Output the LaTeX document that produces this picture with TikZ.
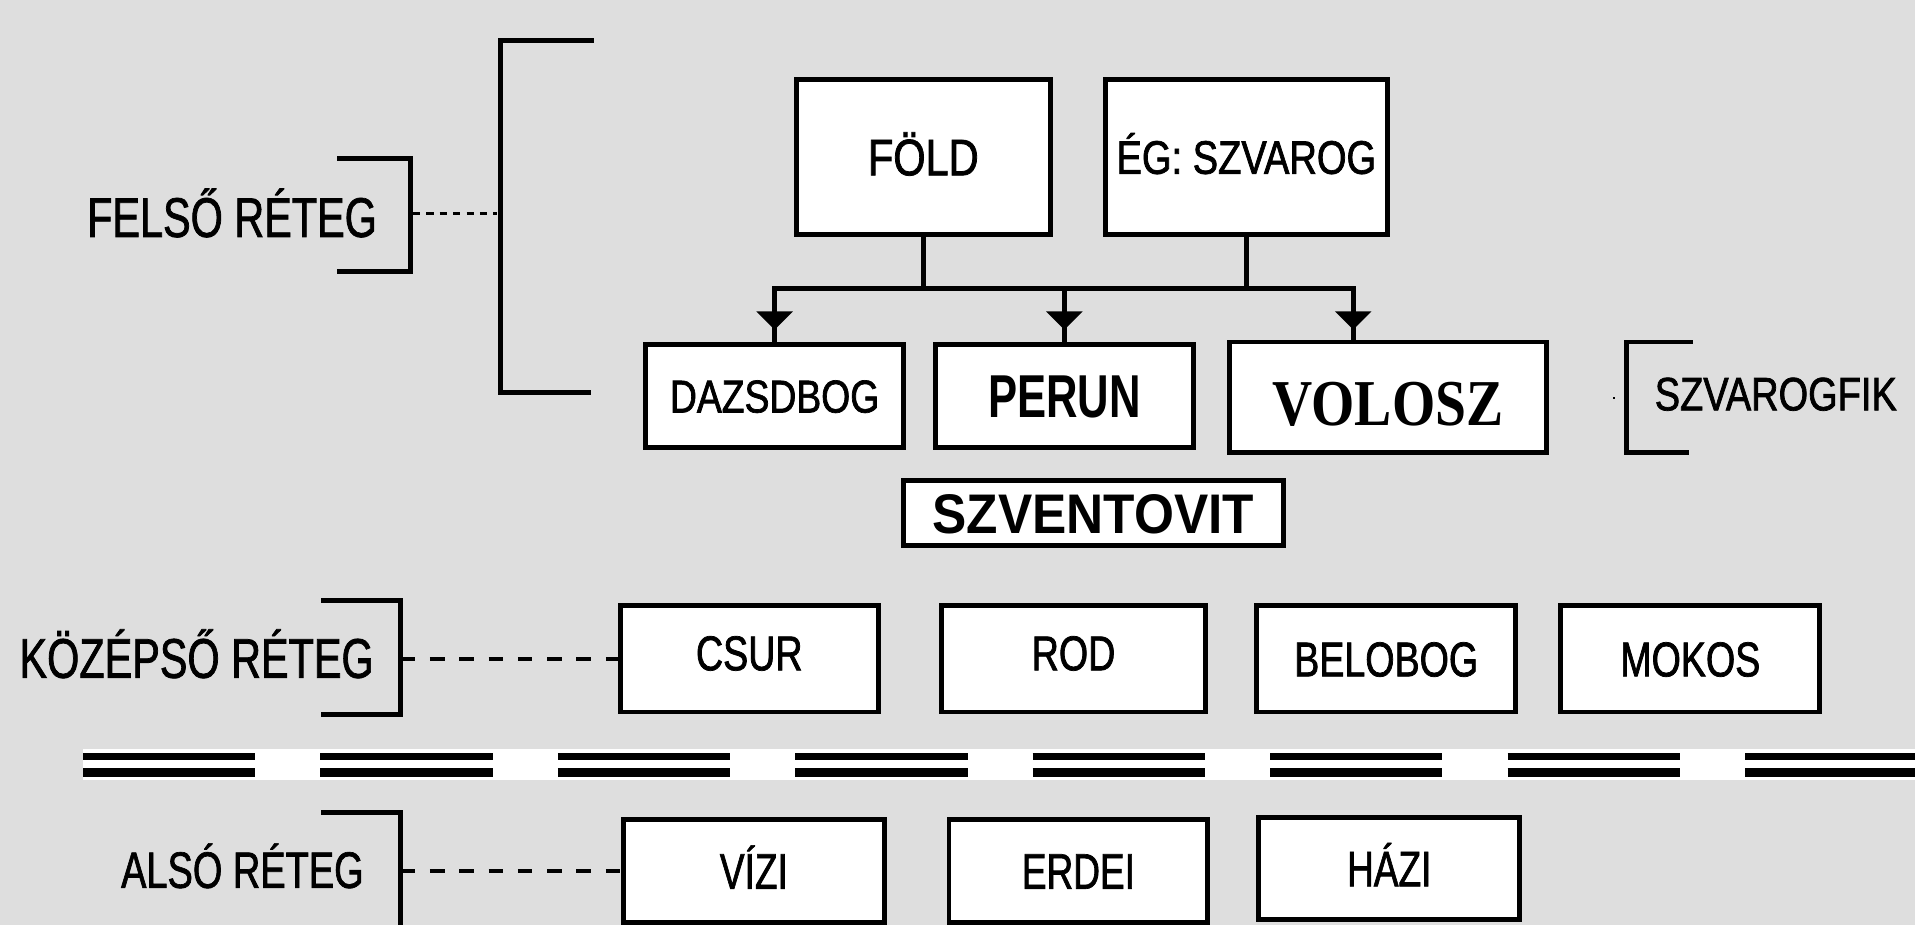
\documentclass[tikz,border=0pt]{standalone}
\usepackage{fontspec}
\setmainfont{Liberation Sans}
\newfontfamily\fA[FakeStretch=0.74,FakeBold=1.3]{Liberation Sans}
\newfontfamily\fB[FakeStretch=0.77,FakeBold=1.5]{Liberation Sans}
\newfontfamily\fC[FakeStretch=0.81,FakeBold=1.5]{Liberation Sans}
\newfontfamily\fP[FakeStretch=0.72]{Liberation Sans}
\newfontfamily\fS[FakeStretch=0.92]{Liberation Sans}
\newfontfamily\fV[FakeStretch=0.85]{Liberation Serif}
\newcommand\fsz[1]{\fontsize{#1}{#1}\selectfont}
\usetikzlibrary{arrows.meta,decorations.markings}
\definecolor{bg}{HTML}{DEDEDE}
\begin{document}
\begin{tikzpicture}[x=1pt,y=-1pt,
  box/.style={draw=black,fill=white,line width=4pt,inner sep=0pt,text depth=0pt},
  conn/.style={line width=4pt,line cap=rect},
  brk/.style={line width=4pt},
  dashln/.style={line width=3.5pt,dash pattern=on 12pt off 12pt},
  arr/.style={postaction={decorate},decoration={markings,
     mark=at position -10pt with {\arrow{Triangle[width=29pt,length=15pt]}}}},
  lbl/.style={anchor=base,inner sep=0pt}
]
\useasboundingbox (0,0) rectangle (1568,757);
\clip (0,0) rectangle (1568,757);
\fill[bg] (0,0) rectangle (1568,757);

% ---- upper layer boxes
\node[box,minimum width=208,minimum height=127,text height=30pt,font={\fC\fsz{42pt}}] (fold) at (756,128.5) {FÖLD};
\node[box,minimum width=231,minimum height=127,text height=27.6pt,font={\fC\fsz{38.5pt}}] (eg) at (1020.5,128.5) {ÉG: SZVAROG};
\node[box,minimum width=211.5,minimum height=84.5,text height=27pt,font={\fC\fsz{37.7pt}}] (dazs) at (634.25,324.25) {DAZSDBOG};
\node[box,minimum width=211,minimum height=84.5,text height=35.5pt,font={\fP\bfseries\fsz{49.6pt}}] (perun) at (871.5,324.25) {PERUN};
\node[box,minimum width=259,minimum height=90.5,text height=45.5pt,font={\fV\bfseries\fsz{53.6pt}}] (volosz) at (1136.5,325.25) {VOLOSZ};
\node[box,minimum width=311.5,minimum height=53.5,text height=32.7pt,font={\fS\bfseries\fsz{45.7pt}}] (szvent) at (895.25,420.25) {SZVENTOVIT};

% ---- middle layer boxes
\node[box,minimum width=211,minimum height=87,text height=28.6pt,text depth=10pt,font={\fB\fsz{40pt}}] (csur) at (613.5,539.5) {CSUR};
\node[box,minimum width=216,minimum height=87,text height=28.6pt,text depth=10pt,font={\fB\fsz{40pt}}] (rod) at (879,539.5) {ROD};
\node[box,minimum width=212,minimum height=87,text height=28.6pt,font={\fB\fsz{40pt}}] (belobog) at (1135,539.5) {BELOBOG};
\node[box,minimum width=212,minimum height=87,text height=28.6pt,font={\fB\fsz{40pt}}] (mokos) at (1384,539.5) {MOKOS};

% ---- lower layer boxes
\node[box,minimum width=213.5,minimum height=84,text height=29.4pt,font={\fA\fsz{41pt}}] (vizi) at (617.25,713) {VÍZI};
\node[box,minimum width=212,minimum height=84,text height=29.4pt,font={\fA\fsz{41pt}}] (erdei) at (883,713) {ERDEI};
\node[box,minimum width=214,minimum height=84,text height=29.4pt,font={\fA\fsz{41pt}}] (hazi) at (1137.5,711) {HÁZI};

% ---- layer labels
\node[lbl,font={\fA\fsz{45.8pt}}] (felso) at (190,194) {FELSŐ RÉTEG};
\node[lbl,font={\fA\fsz{45.8pt}}] (kozep) at (161,555) {KÖZÉPSŐ RÉTEG};
\node[lbl,font={\fA\fsz{42pt}}] (also) at (198.5,727) {ALSÓ RÉTEG};
\node[lbl,font={\fC\fsz{38.4pt}}] (szfik) at (1454,336) {SZVAROGFIK};

% ---- tree connectors
\coordinate (j) at (756,236.5);
\coordinate (vtop) at (1108,280);
\draw[conn] (fold.south) -- (fold.south |- j);
\draw[conn] (eg.south) -- (eg.south |- j);
\draw[conn] (dazs.north |- j) -- (vtop |- j);
\draw[line width=4pt,arr] (dazs.north |- j) -- (dazs.north);
\draw[line width=4pt,arr] (perun.north |- j) -- (perun.north);
\draw[line width=4pt,arr] (vtop |- j) -- (vtop);

% ---- brackets
\draw[brk] (276,129.5) -- (336,129.5) -- (336,222) -- (276,222);
\draw[brk] (486,33.5) -- (409.5,33.5) -- (409.5,321.5) -- (484,321.5);
\coordinate (fb) at (338,175);
\coordinate (bb) at (407,175);
\draw[line width=2.5pt,dash pattern=on 6pt off 5pt] (fb) -- (bb);

\draw[brk] (263,492) -- (328,492) -- (328,585) -- (263,585);
\coordinate (kb) at (328,539.5);
\draw[dashln] (kb) -- (csur.west);

\draw[brk] (263,665) -- (328,665) -- (328,760);
\coordinate (ab) at (328,713);
\draw[dashln] (ab) -- (vizi.west);

\draw[brk] (1386,280) -- (1332,280) -- (1332,370.5) -- (1383,370.5);
\fill (1320.5,325) rectangle (1322.5,327);

% ---- separator
\fill[white] (68,613.5) rectangle (1568,639);
\draw[line width=5.5pt,dash pattern=on 141pt off 53.4pt] (68,619.5) -- (1570,619.5);
\draw[line width=7pt,dash pattern=on 141pt off 53.4pt] (68,632.5) -- (1570,632.5);
\end{tikzpicture}
\end{document}
